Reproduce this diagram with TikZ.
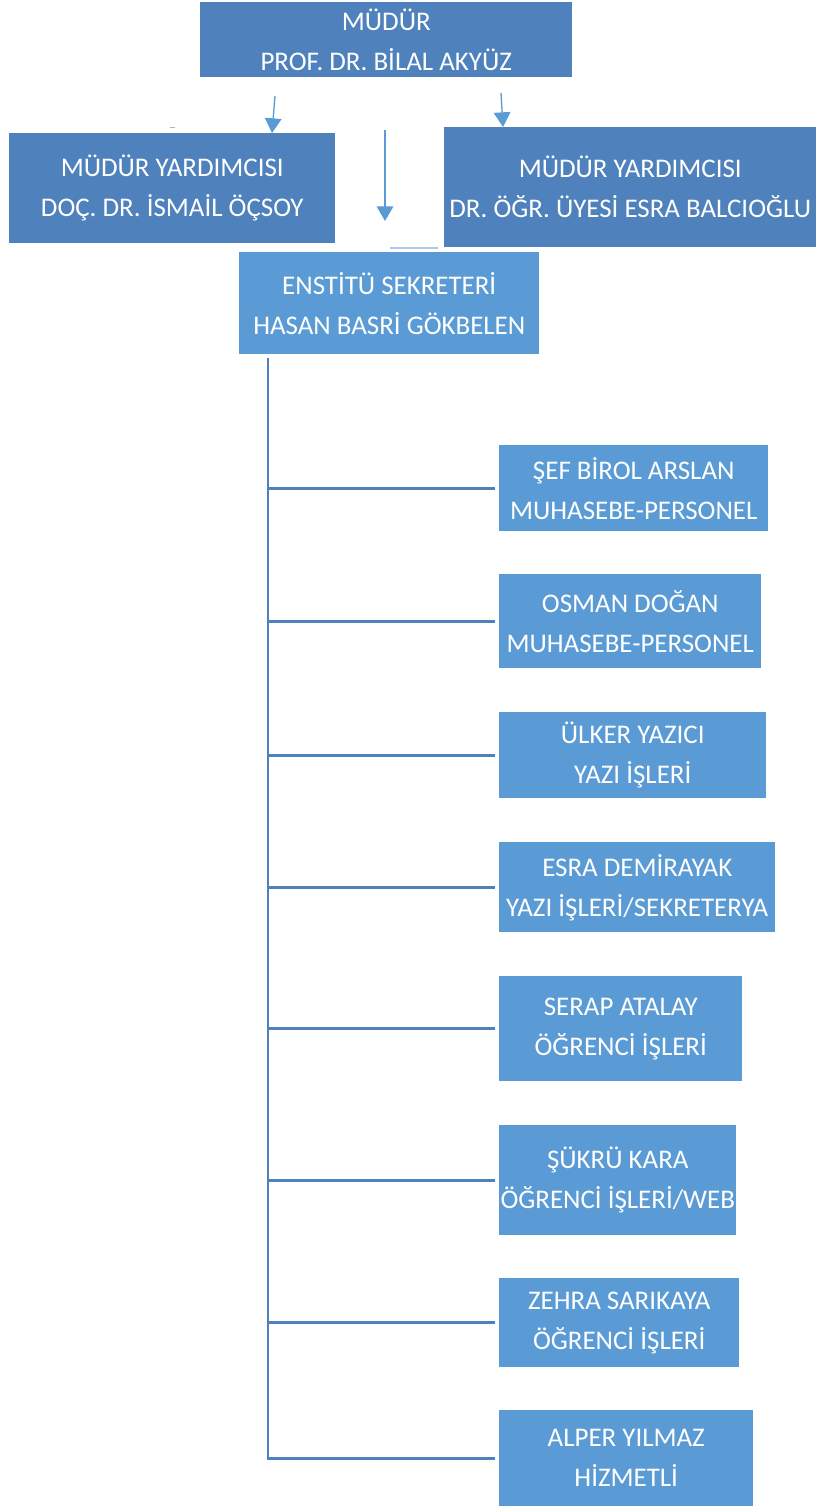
\documentclass[tikz,border=0pt]{standalone}
\usepackage{fontspec}
\setmainfont{Carlito}
\usepackage{tikz}
\usetikzlibrary{positioning,calc,arrows.meta}

\definecolor{darkbox}{HTML}{4F81BD}
\definecolor{lightbox}{HTML}{5B9BD5}
\definecolor{faint}{HTML}{B4C7E7}

\tikzset{
    headbox/.style={rectangle, fill=darkbox, text=white, inner sep=0pt, anchor=north west, align=center,
        font=\fontsize{20.2}{30}\selectfont},
    staffbox/.style={headbox, fill=lightbox},
    downarrow/.style={draw=lightbox, line width=1pt, -{Triangle[width=12.5pt,length=11pt]}},
    trunkline/.style={draw=darkbox, line width=2pt}
}

\begin{document}
\begin{tikzpicture}[x=0.75pt, y=-0.75pt]
    \useasboundingbox (0,0) rectangle (816,1506);

    % head boxes
    \node[headbox, minimum width=372*0.75pt, minimum height=75*0.75pt] (mudur) at (200,2)
        {MÜDÜR\\PROF. DR. BİLAL AKYÜZ};
    \node[headbox, minimum width=326*0.75pt, minimum height=110*0.75pt] (yardl) at (9,133)
        {MÜDÜR YARDIMCISI\\DOÇ. DR. İSMAİL ÖÇSOY};
    \node[headbox, minimum width=372*0.75pt, minimum height=120*0.75pt] (yardr) at (444,127)
        {MÜDÜR YARDIMCISI\\DR. ÖĞR. ÜYESİ ESRA BALCIOĞLU};
    \node[staffbox, minimum width=300*0.75pt, minimum height=102*0.75pt] (sekr) at (239,252)
        {ENSTİTÜ SEKRETERİ\\HASAN BASRİ GÖKBELEN};

    % staff
    \node[staffbox, minimum width=269*0.75pt, minimum height=86*0.75pt] (birol) at (499,445)
        {ŞEF BİROL ARSLAN\\MUHASEBE-PERSONEL};
    \node[staffbox, minimum width=262*0.75pt, minimum height=94*0.75pt] (osman) at (499,574)
        {OSMAN DOĞAN\\MUHASEBE-PERSONEL};
    \node[staffbox, minimum width=267*0.75pt, minimum height=86*0.75pt] (ulker) at (499,712)
        {ÜLKER YAZICI\\YAZI İŞLERİ};
    \node[staffbox, minimum width=276*0.75pt, minimum height=90*0.75pt] (esra) at (499,842)
        {ESRA DEMİRAYAK\\YAZI İŞLERİ/SEKRETERYA};
    \node[staffbox, minimum width=243*0.75pt, minimum height=105*0.75pt] (serap) at (499,976)
        {SERAP ATALAY\\ÖĞRENCİ İŞLERİ};
    \node[staffbox, minimum width=237*0.75pt, minimum height=110*0.75pt] (sukru) at (499,1125)
        {ŞÜKRÜ KARA\\ÖĞRENCİ İŞLERİ/WEB};
    \node[staffbox, minimum width=240*0.75pt, minimum height=89*0.75pt] (zehra) at (499,1278)
        {ZEHRA SARIKAYA\\ÖĞRENCİ İŞLERİ};
    \node[staffbox, minimum width=254*0.75pt, minimum height=96*0.75pt] (alper) at (499,1410)
        {ALPER YILMAZ\\HİZMETLİ};

    % loose arrows under the head box
    \coordinate (al) at (275,96);
    \coordinate (am) at (385,130);
    \coordinate (ar) at (501,93);
    \draw[downarrow] (al) -- (yardl.north -| 272,0);
    \draw[downarrow] (am) -- (385,221);
    \draw[downarrow] (ar) -- (yardr.north -| 503,0);

    % stray marks
    \draw[faint, line width=0.8pt] (390,248) -- (438,248);
    \draw[gray!60, line width=0.6pt] (170,127) -- (175,127);

    % trunk
    \coordinate (trunk) at (268,358);
    \draw[trunkline] (trunk) -- (trunk |- alper.west) -- ([xshift=-3pt]alper.west);
    \foreach \s in {birol,osman,ulker,esra,serap,sukru,zehra}
        \draw[trunkline] (trunk |- \s.west) -- ([xshift=-3pt]\s.west);
\end{tikzpicture}
\end{document}
